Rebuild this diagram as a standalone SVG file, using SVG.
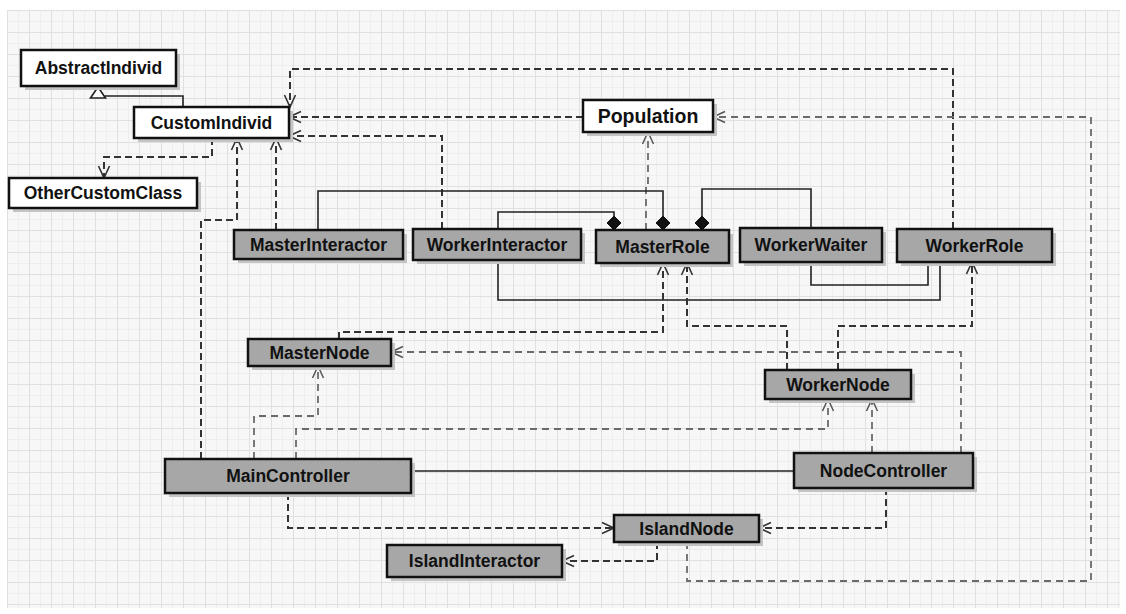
<svg xmlns="http://www.w3.org/2000/svg" width="1126" height="614" viewBox="0 0 1126 614">
<style>
.bx{stroke:#111;stroke-width:2.5}
.w{fill:#fff}
.g{fill:#a7a7a7}
.sh{fill:#c4c4c4}
.t{font-family:"Liberation Sans",Arial,sans-serif;font-weight:bold;font-size:17.5px;fill:#111;text-anchor:middle}
.d{fill:none;stroke:#333;stroke-width:2;stroke-dasharray:7 4}
.dl{fill:none;stroke:#6a6a6a;stroke-width:1.8;stroke-dasharray:7 5}
.s{fill:none;stroke:#222;stroke-width:1.6}
.dm{fill:#111;stroke:#111;stroke-width:1}
</style>
<defs>
<pattern id="gm" width="11" height="11" patternUnits="userSpaceOnUse" x="7" y="10">
<path d="M0,0.5H11M0.5,0V11" fill="none" stroke="#eeeeee" stroke-width="1"/>
</pattern>
<pattern id="gM" width="22" height="22" patternUnits="userSpaceOnUse" x="7" y="10">
<path d="M0,0.5H22M0.5,0V22" fill="none" stroke="#e0e0e0" stroke-width="1"/>
</pattern>
<marker id="a" markerUnits="userSpaceOnUse" markerWidth="16" markerHeight="14" refX="13" refY="7" orient="auto">
<path d="M1,1.5 L13,7 L1,12.5" fill="none" stroke="#333" stroke-width="1.6"/>
</marker>
<marker id="al" markerUnits="userSpaceOnUse" markerWidth="16" markerHeight="14" refX="13" refY="7" orient="auto">
<path d="M1,1.5 L13,7 L1,12.5" fill="none" stroke="#555" stroke-width="1.5"/>
</marker>
</defs>
<rect width="1126" height="614" fill="#fff"/>
<rect x="7" y="10" width="1113" height="598" fill="#f7f7f7"/>
<rect x="7" y="10" width="1113" height="598" fill="url(#gm)"/>
<rect x="7" y="10" width="1113" height="598" fill="url(#gM)"/>

<g id="connectors">
<path class="d" d="M953,229 V69 H290 V107" marker-end="url(#a)"/>
<path class="d" d="M583,117 H289" marker-end="url(#a)"/>
<path class="d" d="M442,229 V136 H289" marker-end="url(#a)"/>
<path class="dl" d="M687,542 V581 H1091 V117 H713" marker-end="url(#al)"/>
<path class="dl" d="M646,230 V183 H648 V132" marker-end="url(#al)"/>
<path class="d" d="M212,138 V157 H104 V178" marker-end="url(#a)"/>
<path class="d" d="M201,459 V220 H237 V138" marker-end="url(#a)"/>
<path class="d" d="M276,230 V138" marker-end="url(#a)"/>
<path class="s" d="M183,107 V96 H105"/>
<polygon points="98,87 105.5,98 90.5,98" fill="#fff" stroke="#222" stroke-width="1.6"/>
<path class="s" d="M318,230 V191 H663 V216"/>
<polygon class="dm" points="663,216 670,223 663,230 656,223"/>
<path class="s" d="M498,229 V212 H614 V216"/>
<polygon class="dm" points="614,216 621,223 614,230 607,223"/>
<path class="s" d="M811,228 V189 H702 V216"/>
<polygon class="dm" points="702,216 709,223 702,230 695,223"/>
<path class="s" d="M498,260 V300 H940 V262"/>
<path class="s" d="M811,262 V285 H928 V262"/>
<path class="d" d="M339,339 V332 H663 V263" marker-end="url(#a)"/>
<path class="d" d="M787,370 V326 H687 V263" marker-end="url(#a)"/>
<path class="d" d="M838,370 V326 H972 V262" marker-end="url(#a)"/>
<path class="dl" d="M961,453 V352 H391" marker-end="url(#al)"/>
<path class="dl" d="M254,459 V416 H318 V366" marker-end="url(#al)"/>
<path class="dl" d="M296,459 V429 H828 V399" marker-end="url(#al)"/>
<path class="dl" d="M872,453 V399" marker-end="url(#al)"/>
<path class="s" d="M411,471 H794"/>
<path class="d" d="M288,493 V528 H614" marker-end="url(#a)"/>
<path class="d" d="M886,488 V528 H759" marker-end="url(#a)"/>
<path class="d" d="M657,542 V561 H562" marker-end="url(#a)"/>
</g>

<g id="AbstractIndivid"><rect class="sh" x="25" y="54" width="155" height="36"/><rect class="bx w" x="21" y="50" width="155" height="36"/><text class="t" x="98.5" y="74">AbstractIndivid</text></g>
<g id="CustomIndivid"><rect class="sh" x="138" y="111" width="155" height="31"/><rect class="bx w" x="134" y="107" width="155" height="31"/><text class="t" x="211.5" y="128.5">CustomIndivid</text></g>
<g id="OtherCustomClass"><rect class="sh" x="13" y="182" width="188" height="30"/><rect class="bx w" x="9" y="178" width="188" height="30"/><text class="t" x="103" y="199">OtherCustomClass</text></g>
<g id="Population"><rect class="sh" x="587" y="104" width="130" height="32"/><rect class="bx w" x="583" y="100" width="130" height="32"/><text class="t" x="648" y="123" style="font-size:19.5px">Population</text></g>
<g id="MasterInteractor"><rect class="sh" x="238" y="234" width="169" height="29"/><rect class="bx g" x="234" y="230" width="169" height="29"/><text class="t" x="318.5" y="250.5">MasterInteractor</text></g>
<g id="WorkerInteractor"><rect class="sh" x="417" y="233" width="168" height="31"/><rect class="bx g" x="413" y="229" width="168" height="31"/><text class="t" x="497" y="250.5">WorkerInteractor</text></g>
<g id="MasterRole"><rect class="sh" x="600" y="234" width="133" height="33"/><rect class="bx g" x="596" y="230" width="133" height="33"/><text class="t" x="662.5" y="252.5">MasterRole</text></g>
<g id="WorkerWaiter"><rect class="sh" x="744" y="232" width="142" height="34"/><rect class="bx g" x="740" y="228" width="142" height="34"/><text class="t" x="811" y="251">WorkerWaiter</text></g>
<g id="WorkerRole"><rect class="sh" x="901" y="233" width="155" height="33"/><rect class="bx g" x="897" y="229" width="155" height="33"/><text class="t" x="974.5" y="251.5">WorkerRole</text></g>
<g id="MasterNode"><rect class="sh" x="252" y="343" width="143" height="27"/><rect class="bx g" x="248" y="339" width="143" height="27"/><text class="t" x="319.5" y="358.5">MasterNode</text></g>
<g id="WorkerNode"><rect class="sh" x="769" y="374" width="146" height="29"/><rect class="bx g" x="765" y="370" width="146" height="29"/><text class="t" x="838" y="390.5">WorkerNode</text></g>
<g id="MainController"><rect class="sh" x="169" y="463" width="246" height="34"/><rect class="bx g" x="165" y="459" width="246" height="34"/><text class="t" x="288" y="482">MainController</text></g>
<g id="NodeController"><rect class="sh" x="798" y="457" width="179" height="35"/><rect class="bx g" x="794" y="453" width="179" height="35"/><text class="t" x="883.5" y="476.5">NodeController</text></g>
<g id="IslandNode"><rect class="sh" x="618" y="519" width="145" height="27"/><rect class="bx g" x="614" y="515" width="145" height="27"/><text class="t" x="686.5" y="534.5">IslandNode</text></g>
<g id="IslandInteractor"><rect class="sh" x="391" y="549" width="175" height="32"/><rect class="bx g" x="387" y="545" width="175" height="32"/><text class="t" x="474.5" y="567">IslandInteractor</text></g>
</svg>
